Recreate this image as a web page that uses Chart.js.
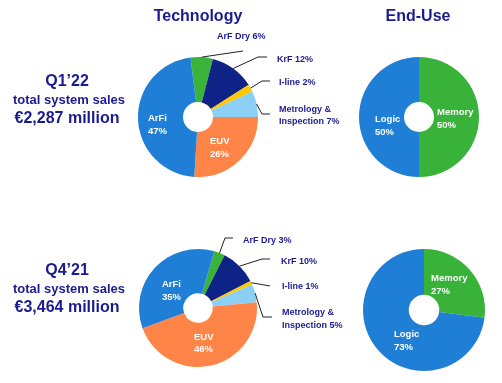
<!DOCTYPE html>
<html>
<head>
<meta charset="utf-8">
<script src="https://cdn.jsdelivr.net/npm/chart.js@4/dist/chart.umd.min.js"></script>
<style>
  html, body { margin: 0; padding: 0; background: #fff; }
  #wrap { position: relative; width: 502px; height: 383px; overflow: hidden; background: #fff;
          font-family: "Liberation Sans", Arial, sans-serif; font-weight: bold; color: #1b1b8f; }
  canvas { position: absolute; left: 0; top: 0; }
  .t { position: absolute; white-space: nowrap; transform: translate(-50%, -50%); line-height: 1; }
</style>
</head>
<body>
<div id="wrap">
  <canvas id="c1" width="502" height="383"></canvas>
  <canvas id="c2" width="502" height="383"></canvas>
  <canvas id="c3" width="502" height="383"></canvas>
  <canvas id="c4" width="502" height="383"></canvas>
  <div class="t" style="left:198px;top:16px;font-size:16px;">Technology</div>
  <div class="t" style="left:418px;top:16px;font-size:16px;">End-Use</div>
  <div class="t" style="left:67px;top:81px;font-size:16px;">Q1’22</div>
  <div class="t" style="left:69px;top:99px;font-size:13px;">total system sales</div>
  <div class="t" style="left:67px;top:118px;font-size:16px;">€2,287 million</div>
  <div class="t" style="left:67px;top:270px;font-size:16px;">Q4’21</div>
  <div class="t" style="left:69px;top:288px;font-size:13px;">total system sales</div>
  <div class="t" style="left:67px;top:307px;font-size:16px;">€3,464 million</div>
</div>
<script>
// ---- data ----
const techLabels = ['ArF Dry', 'KrF', 'I-line', 'Metrology & Inspection', 'EUV', 'ArFi'];
const techQ1 = [6, 12, 2, 7, 26, 47];
const techQ4 = [3, 10, 1, 5, 46, 35];
const endLabels = ['Memory', 'Logic'];
const endQ1 = [50, 50];
const endQ4 = [27, 73];

// ---- styles ----
const techColors = ['#3bb33b', '#0f2387', '#ffc800', '#8ccff5', '#ff8447', '#1f7ed6'];
const endColors = ['#39b239', '#1f7ed6'];
const navy = '#1b1b8f';
const FONT = '"Liberation Sans", Arial, sans-serif';

// label layout: outside labels (with leader line) and inside labels
// outside: {i, lines:[...], x, ys:[...], path:[[x,y],...]}
// inside: {i, x, ys:[y1,y2]}
function pct(v) { return v + '%'; }

const layoutQ1Tech = {
  outside: [
    { i: 0, text: v => [techLabels[0] + ' ' + pct(v)], x: 217, ys: [37], path: [[243, 51]] },
    { i: 1, text: v => [techLabels[1] + ' ' + pct(v)], x: 277, ys: [60], path: [[258, 57], [267, 57]] },
    { i: 2, text: v => [techLabels[2] + ' ' + pct(v)], x: 279, ys: [83], path: [[262, 81], [270, 81]] },
    { i: 3, text: v => ['Metrology &', 'Inspection ' + pct(v)], x: 279, ys: [110, 122], path: [[262, 114], [270, 114]] }
  ],
  inside: [
    { i: 4, x: 210, ys: [141, 154] },
    { i: 5, x: 148, ys: [118, 131] }
  ]
};
const layoutQ4Tech = {
  outside: [
    { i: 0, text: v => [techLabels[0] + ' ' + pct(v)], x: 243, ys: [241], path: [[225, 238], [233, 238]] },
    { i: 1, text: v => [techLabels[1] + ' ' + pct(v)], x: 281, ys: [262], path: [[262, 259], [270, 259]] },
    { i: 2, text: v => [techLabels[2] + ' ' + pct(v)], x: 282, ys: [287], path: [[270, 286]] },
    { i: 3, text: v => ['Metrology &', 'Inspection ' + pct(v)], x: 282, ys: [313, 326], path: [[263, 317], [272, 317]] }
  ],
  inside: [
    { i: 4, x: 194, ys: [337, 349] },
    { i: 5, x: 162, ys: [284, 297] }
  ]
};
const layoutQ1End = { outside: [], inside: [ { i: 0, x: 437, ys: [112, 125] }, { i: 1, x: 375, ys: [119, 132] } ] };
const layoutQ4End = { outside: [], inside: [ { i: 0, x: 431, ys: [278, 291] }, { i: 1, x: 394, ys: [334, 347] } ] };

const labelPlugin = {
  id: 'sliceLabels',
  afterDatasetsDraw(chart, args, opts) {
    const ctx = chart.ctx;
    const meta = chart.getDatasetMeta(0);
    const data = chart.data.datasets[0].data;
    const labels = chart.data.labels;
    const lay = opts.layout;
    ctx.save();
    ctx.textBaseline = 'middle';
    ctx.textAlign = 'left';
    lay.outside.forEach(o => {
      const arc = meta.data[o.i];
      const mid = (arc.startAngle + arc.endAngle) / 2;
      const sx = arc.x + Math.cos(mid) * arc.outerRadius;
      const sy = arc.y + Math.sin(mid) * arc.outerRadius;
      ctx.beginPath();
      ctx.strokeStyle = '#222';
      ctx.lineWidth = 1;
      ctx.moveTo(sx, sy);
      o.path.forEach(p => ctx.lineTo(p[0], p[1]));
      ctx.stroke();
      ctx.fillStyle = navy;
      ctx.font = 'bold 9px ' + FONT;
      o.text(data[o.i]).forEach((t, k) => ctx.fillText(t, o.x, o.ys[k]));
    });
    lay.inside.forEach(o => {
      ctx.fillStyle = '#ffffff';
      ctx.font = 'bold 9.5px ' + FONT;
      ctx.fillText(labels[o.i], o.x, o.ys[0]);
      ctx.fillText(pct(data[o.i]), o.x, o.ys[1]);
    });
    ctx.restore();
  }
};

function makePie(id, labels, values, colors, rotation, cx, cy, r, layout) {
  const W = 502, H = 383;
  new Chart(document.getElementById(id), {
    type: 'doughnut',
    data: { labels: labels, datasets: [{ data: values, backgroundColor: colors, borderWidth: 0, hoverOffset: 0, offset: 0 }] },
    options: {
      responsive: false,
      animation: false,
      devicePixelRatio: 1,
      rotation: rotation,
      cutout: '25%',
      radius: r,
      layout: { padding: { left: cx - r, top: cy - r, right: W - (cx + r), bottom: H - (cy + r) } },
      plugins: { legend: { display: false }, tooltip: { enabled: false }, sliceLabels: { layout: layout } },
      events: []
    },
    plugins: [labelPlugin]
  });
}

makePie('c1', techLabels, techQ1, techColors, -7.2, 198, 117, 60, layoutQ1Tech);
makePie('c2', endLabels, endQ1, endColors, 0, 419, 117, 60, layoutQ1End);
makePie('c3', techLabels, techQ4, techColors, 16, 198, 308, 59, layoutQ4Tech);
makePie('c4', endLabels, endQ4, endColors, 0, 424, 310, 61, layoutQ4End);
</script>
</body>
</html>
